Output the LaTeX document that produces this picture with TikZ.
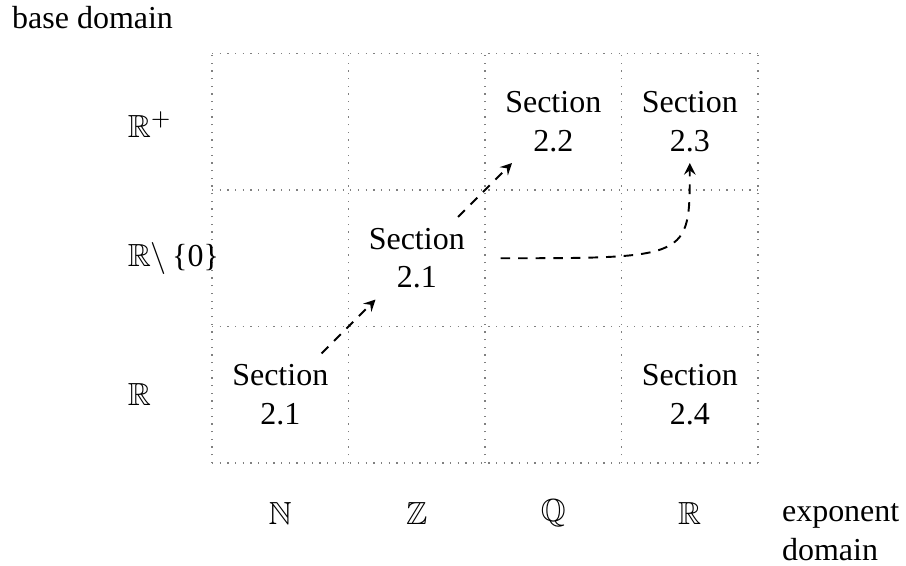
\documentclass[tikz,border=0pt]{standalone}
\usepackage{fontspec}
\setmainfont{Liberation Serif}
\usepackage{amssymb}
\usetikzlibrary{arrows,positioning}
\tikzset{>=stealth}

\begin{document}
\begin{tikzpicture}[sect/.style={align=center}, dom/.style={anchor=west}, flow/.style={->, semithick, dash pattern=on 3pt off 2.5pt}, node distance=1.5cm, on grid]
		\useasboundingbox (-2.33,-1.121) rectangle (7.626,5.088);
		\draw[dotted, gray] (0,0) grid[step=1.5] (6,4.5);
		\node[sect] (s21n) at (0.75,0.75) {Section\\2.1};
		\node[sect] (s21z) [above right=1.5cm and 1.5cm of s21n] {Section\\2.1};
		\node[sect] (s22) [above right=1.5cm and 1.5cm of s21z] {Section\\2.2};
		\node[sect] (s23) [right=of s22] {Section\\2.3};
		\node[sect] (s24) [below=3cm of s23] {Section\\2.4};
		\node[dom] (rpos) at (-1.05,3.72) {$\mathbb{R}^+$};
		\node[dom] (rnz) at (-1.05,2.25) {$\mathbb{R}\backslash$\,\{0\}};
		\node[dom] (rall) at (-1.05,0.75) {$\mathbb{R}$};
		\node[dom] (base) at (-2.32,4.89) {base domain};
		\node (enat) at (0.75,-0.55) {$\mathbb{N}$};
		\node (eint) [right=of enat] {$\mathbb{Z}$};
		\node (erat) [right=of eint] {$\mathbb{Q}$};
		\node (ereal) [right=of erat] {$\mathbb{R}$};
		\node[dom, align=left] (expo) at (6.14,-0.76) {exponent\\domain};
		\coordinate (bend) at (3.17,2.25);
		\draw[flow] (s21n) -- (s21z);
		\draw[flow] (s21z) -- (s22);
		\draw[flow] (bend) .. controls (bend -| s23.south) .. (s23.south);
	\end{tikzpicture}
\end{document}
